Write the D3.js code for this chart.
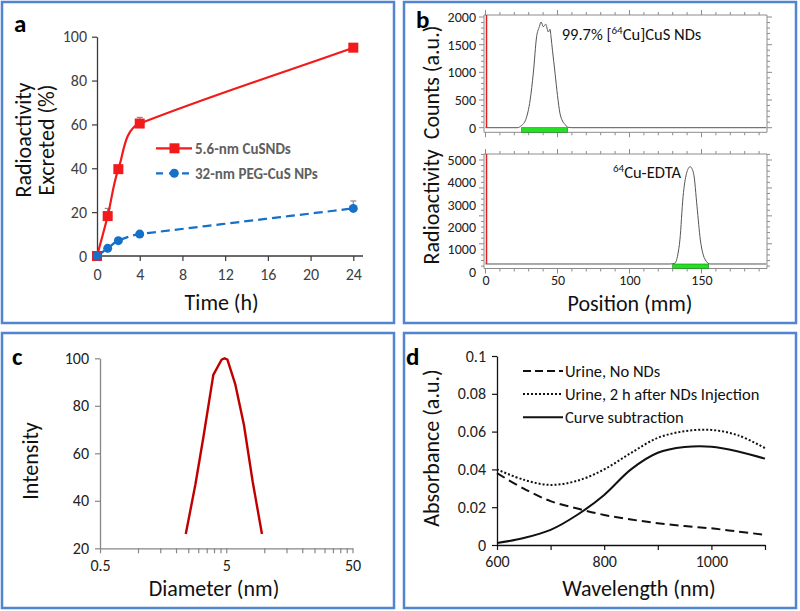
<!DOCTYPE html>
<html><head><meta charset="utf-8">
<script src="https://cdn.jsdelivr.net/npm/d3@7"></script>
<style>
body{margin:0;background:#fff}
svg{display:block}
text{font-family:Carlito,Lato,"Open Sans",sans-serif}
</style>
</head><body>
<svg id="fig" width="800" height="611"></svg>
<script>
// ---------------- DATA ----------------
// Panel a
const aTime = [0, 1, 2, 4, 24];
const aCuSND = [0, 18.2, 39.6, 60.4, 95.0];
const aCuSNDErr = [0, 3.5, 1.5, 2.8, 1.0];
const aPEG = [0, 3.5, 7.0, 10.0, 21.7];
const aPEGErr = [0, 0.8, 0.8, 0.8, 3.4];
const aXTicks = [0, 4, 8, 12, 16, 20, 24];
const aYTicks = [0, 20, 40, 60, 80, 100];
const aSeriesNames = ["5.6-nm CuSNDs", "32-nm PEG-CuS NPs"];
// Panel b
const bTopPos = [0, 22, 25, 28, 31, 33.2, 35.5, 37.4, 38.6, 40.2, 41.8, 43.6, 44.8, 45.5, 46.5, 48.3, 50, 51.7, 53.5, 55.2, 57, 60, 195];
const bTopCounts = [0, 0, 40, 150, 500, 985, 1645, 1825, 1910, 1825, 1870, 1730, 1780, 1640, 1400, 985, 580, 260, 120, 60, 10, 0, 0];
const bBotPos = [0, 128, 131.5, 133.5, 135, 137.2, 139.6, 142.1, 144.5, 146.9, 149.2, 151, 152.7, 156, 195];
const bBotCounts = [345, 345, 380, 750, 1420, 3360, 4400, 4700, 4400, 2910, 1420, 800, 525, 345, 345];
const bTopRegion = [25, 57];
const bBotRegion = [130, 155];
const bXTicks = [0, 50, 100, 150];
const bTopYTicks = [0, 500, 1000, 1500, 2000];
const bBotYTicks = [0, 1000, 2000, 3000, 4000, 5000];
// Panel c
const cDiameter = [2.39, 2.85, 3.3, 3.95, 4.6, 4.85, 5.1, 5.9, 6.9, 8.1, 9.59];
const cIntensity = [26, 47, 67, 93, 99.5, 100, 99.5, 89, 72, 48, 26];
const cXTicks = [0.5, 1, 1.5, 2, 2.5, 3, 3.5, 4, 4.5, 5, 10, 15, 20, 25, 30, 35, 40, 45, 50];
const cXLabels = [0.5, 5, 50];
const cYTicks = [20, 40, 60, 80, 100];
// Panel d
const dWave = [600, 650, 700, 750, 800, 850, 900, 950, 1000, 1050, 1100];
const dNoNDs = [0.038, 0.0298, 0.0232, 0.0193, 0.0159, 0.0135, 0.0115, 0.0100, 0.0088, 0.0071, 0.0054];
const dAfter = [0.040, 0.0345, 0.0318, 0.034, 0.040, 0.0487, 0.0567, 0.0602, 0.0609, 0.058, 0.0513];
const dSub = [0.001, 0.0037, 0.008, 0.016, 0.0265, 0.040, 0.0488, 0.0518, 0.052, 0.0495, 0.0457];
const dXTicks = [600, 700, 800, 900, 1000, 1100];
const dXLabels = [600, 800, 1000];
const dYTicks = [0, 0.02, 0.04, 0.06, 0.08, 0.1];
const dSeriesNames = ["Urine, No NDs", "Urine, 2 h after NDs Injection", "Curve subtraction"];

// ---------------- DRAW ----------------
const svg = d3.select("#fig");
const BORDER = "#5285cf";
const TITLEFS = 22;

[[2,2,392,321],[404,2,392,321],[2,333,392,275],[404,333,392,275]].forEach(r=>{
  svg.append("rect").attr("x",r[0]).attr("y",r[1]).attr("width",r[2]).attr("height",r[3])
    .attr("fill","none").attr("stroke",BORDER).attr("stroke-width",2.5);
});
function letter(t,x,y){
  svg.append("text").attr("x",x).attr("y",y).attr("font-size",25).attr("font-weight","bold").attr("fill","#000").text(t);
}
function styleAxis(g,color,fs,textColor){
  g.selectAll("path.domain").attr("stroke",color).attr("stroke-width",1.3);
  g.selectAll(".tick line").attr("stroke",color).attr("stroke-width",1.2);
  g.selectAll(".tick text").attr("font-size",fs).attr("fill",textColor).style("font-family","Carlito,Lato,'Open Sans',sans-serif");
  g.selectAll(".tick text").filter(function(){return this.textContent==="";}).remove();
}
function title(t,x,y,rot,fs){
  const tx = svg.append("text").attr("font-size",fs||TITLEFS).attr("fill","#111").attr("text-anchor","middle");
  if(rot) tx.attr("transform",`translate(${x},${y}) rotate(-90)`).attr("dy","0.35em");
  else tx.attr("x",x).attr("y",y);
  tx.text(t);
  return tx;
}
// Excel-like smoothed line: Bezier, tangent direction weighted toward the longer neighbouring segment
function smoothPath(pts){
  const p = d3.path(), n = pts.length;
  const tan = pts.map((pt,i)=>{
    let dx=0, dy=0;
    if(i>0){ const ax=pt[0]-pts[i-1][0], ay=pt[1]-pts[i-1][1], L=Math.hypot(ax,ay); dx+=ax*L; dy+=ay*L; }
    if(i<n-1){ const bx=pts[i+1][0]-pt[0], by=pts[i+1][1]-pt[1], L=Math.hypot(bx,by); dx+=bx*L; dy+=by*L; }
    const L=Math.hypot(dx,dy)||1;
    return [dx/L, dy/L];
  });
  p.moveTo(pts[0][0],pts[0][1]);
  for(let i=0;i<n-1;i++){
    const a=pts[i], b=pts[i+1], L=Math.hypot(b[0]-a[0],b[1]-a[1])/3;
    p.bezierCurveTo(a[0]+tan[i][0]*L, a[1]+tan[i][1]*L, b[0]-tan[i+1][0]*L, b[1]-tan[i+1][1]*L, b[0], b[1]);
  }
  return p.toString();
}

// ===== Panel a =====
(function(){
  const x = d3.scaleLinear().domain([0,24]).range([97,353.3]);
  const y = d3.scaleLinear().domain([0,100]).range([256,36.7]);
  const axCol = "#3a3a3a", fs = 16;
  const gx = svg.append("g").attr("transform","translate(0,256)")
    .call(d3.axisBottom(x).tickValues(aXTicks).tickSize(5).tickSizeOuter(0).tickPadding(8));
  gx.select("path.domain").remove();
  svg.append("line").attr("x1",97).attr("x2",363).attr("y1",256).attr("y2",256).attr("stroke",axCol).attr("stroke-width",1.3);
  styleAxis(gx,axCol,fs,"#404040");
  const gy = svg.append("g").attr("transform","translate(97,0)")
    .call(d3.axisLeft(y).tickValues(aYTicks).tickSize(5).tickSizeOuter(0).tickPadding(5));
  styleAxis(gy,axCol,fs,"#404040");

  const red = "#f21a1a", blue = "#1470c8";
  function errs(vals, errsArr){
    vals.forEach((v,i)=>{
      if(errsArr[i]<=0) return;
      const xx = x(aTime[i]);
      svg.append("line").attr("x1",xx).attr("x2",xx).attr("y1",y(v)).attr("y2",y(v+errsArr[i])).attr("stroke","#8a8a8a").attr("stroke-width",1.2);
      svg.append("line").attr("x1",xx-3).attr("x2",xx+3).attr("y1",y(v+errsArr[i])).attr("y2",y(v+errsArr[i])).attr("stroke","#8a8a8a").attr("stroke-width",1.2);
    });
  }
  errs(aCuSND,aCuSNDErr); errs(aPEG,aPEGErr);
  const ptsRed = aCuSND.map((d,i)=>[x(aTime[i]),y(d)]);
  const ptsBlue = aPEG.map((d,i)=>[x(aTime[i]),y(d)]);
  svg.append("path").attr("d",smoothPath(ptsBlue)).attr("fill","none").attr("stroke",blue).attr("stroke-width",2.2).attr("stroke-dasharray","9,5");
  svg.append("path").attr("d",smoothPath(ptsRed)).attr("fill","none").attr("stroke",red).attr("stroke-width",2.2);
  svg.selectAll("rect.mk").data(aCuSND).enter().append("rect")
    .attr("x",(d,i)=>x(aTime[i])-5).attr("y",d=>y(d)-5).attr("width",10).attr("height",10).attr("fill",red);
  svg.selectAll("circle.mk").data(aPEG).enter().append("circle")
    .attr("cx",(d,i)=>x(aTime[i])).attr("cy",d=>y(d)).attr("r",4.5).attr("fill",blue);
  // legend
  svg.append("line").attr("x1",156).attr("x2",192).attr("y1",148.3).attr("y2",148.3).attr("stroke",red).attr("stroke-width",2.2);
  svg.append("rect").attr("x",169.5).attr("y",143.3).attr("width",10).attr("height",10).attr("fill",red);
  svg.append("line").attr("x1",156).attr("x2",192).attr("y1",173.3).attr("y2",173.3).attr("stroke",blue).attr("stroke-width",2.2).attr("stroke-dasharray","7,6");
  svg.append("circle").attr("cx",174.3).attr("cy",173.3).attr("r",4.5).attr("fill",blue);
  [148.3,173.3].forEach((yy,i)=>{
    svg.append("text").attr("x",195).attr("y",yy).attr("dy","0.35em").attr("font-size",15).attr("font-weight","bold").attr("fill","#5f5f5f").text(aSeriesNames[i]);
  });
  letter("a",14,31.5);
  title("Radioactivity",23.5,140,true,22);
  title("Excreted (%)",46.5,140,true,22);
  title("Time (h)",221.7,310,false,22);
})();

// ===== Panel b =====
(function(){
  const x = d3.scaleLinear().domain([0,195]).range([485.5,766.3]);
  const frameCol = "#8c8c8c", fs = 14;
  function sub(yTop, yAxis, y, yMinorStep, posArr, cntArr, region, yticks){
    const xl = 484, xr = 767;
    svg.append("line").attr("x1",xl).attr("x2",xr).attr("y1",yTop).attr("y2",yTop).attr("stroke",frameCol);
    svg.append("line").attr("x1",xl).attr("x2",xl).attr("y1",yTop).attr("y2",yAxis).attr("stroke",frameCol);
    svg.append("line").attr("x1",xr).attr("x2",xr).attr("y1",yTop).attr("y2",yAxis).attr("stroke",frameCol);
    svg.append("line").attr("x1",xl).attr("x2",xr).attr("y1",yAxis).attr("y2",yAxis).attr("stroke",frameCol);
    d3.range(0,196,10).forEach(v=>{
      const xx = x(v), len = v%50===0?5:3;
      svg.append("line").attr("x1",xx).attr("x2",xx).attr("y1",yTop).attr("y2",yTop-len).attr("stroke",frameCol);
      svg.append("line").attr("x1",xx).attr("x2",xx).attr("y1",yAxis).attr("y2",yAxis+len).attr("stroke",frameCol);
    });
    const ymax = y.invert(yTop);
    for(let v=0; v<=ymax; v+=yMinorStep){
      const yy = y(v); if(yy>yAxis) continue;
      const len = (v%(yMinorStep*5)===0)?5:3;
      svg.append("line").attr("x1",xl).attr("x2",xl-len).attr("y1",yy).attr("y2",yy).attr("stroke",frameCol);
      svg.append("line").attr("x1",xr).attr("x2",xr+len).attr("y1",yy).attr("y2",yy).attr("stroke",frameCol);
    }
    svg.append("line").attr("x1",x(0)+1).attr("x2",x(0)+1).attr("y1",yTop).attr("y2",y(cntArr[0])).attr("stroke","#e02020").attr("stroke-width",1.5);
    svg.append("rect").attr("x",x(region[0])).attr("y",y(cntArr[cntArr.length-1])).attr("width",x(region[1])-x(region[0])).attr("height",4.6)
      .attr("fill","#22e022").attr("stroke","#1b7f1b").attr("stroke-width",0.6);
    const lg = d3.line().x((d,i)=>x(posArr[i])).y(d=>y(d)).curve(d3.curveMonotoneX);
    svg.append("path").datum(cntArr).attr("d",lg).attr("fill","none").attr("stroke","#555").attr("stroke-width",1);
    const gy = svg.append("g").attr("transform","translate(480,0)")
      .call(d3.axisLeft(y).tickValues(yticks).tickSize(0).tickPadding(4).tickFormat(d3.format("d")));
    gy.select("path.domain").remove();
    styleAxis(gy,"none",fs,"#222");
  }
  const yTopS = d3.scaleLinear().domain([0,2000]).range([127.7,17]);
  const yBotS = d3.scaleLinear().domain([0,5000]).range([271.7,160]);
  sub(15,132.3,yTopS,100,bTopPos,bTopCounts,bTopRegion,bTopYTicks);
  sub(154,268.5,yBotS,250,bBotPos,bBotCounts,bBotRegion,bBotYTicks);
  const gx = svg.append("g").attr("transform","translate(0,268.5)")
    .call(d3.axisBottom(x).tickValues(bXTicks).tickSize(0).tickPadding(7));
  gx.select("path.domain").remove();
  styleAxis(gx,"none",fs,"#222");
  const t1 = svg.append("text").attr("x",561.7).attr("y",40).attr("font-size",16.5).attr("fill","#111");
  t1.append("tspan").text("99.7% [");
  t1.append("tspan").attr("font-size",11).attr("dy",-6).text("64");
  t1.append("tspan").attr("dy",6).text("Cu]CuS NDs");
  const t2 = svg.append("text").attr("x",613).attr("y",177.5).attr("font-size",16.5).attr("fill","#111");
  t2.append("tspan").attr("font-size",11).attr("dy",-6).text("64");
  t2.append("tspan").attr("dy",6).text("Cu-EDTA");
  letter("b",416,28.3);
  title("Radioactivity  Counts (a.u.)",431,145,true,22).style("white-space","pre");
  title("Position (mm)",630,311,false,22);
})();

// ===== Panel c =====
(function(){
  const x = d3.scaleLog().domain([0.5,50]).range([100,352.5]);
  const y = d3.scaleLinear().domain([20,100]).range([548.3,358.3]);
  const axCol = "#868686", fs = 16;
  const gx = svg.append("g").attr("transform","translate(0,548.3)")
    .call(d3.axisBottom(x).tickValues(cXTicks).tickSize(5).tickSizeOuter(0).tickPadding(6)
      .tickFormat(d=>cXLabels.includes(d)?String(d):""));
  styleAxis(gx,axCol,fs,"#222");
  const gy = svg.append("g").attr("transform","translate(100,0)")
    .call(d3.axisLeft(y).tickValues(cYTicks).tickSize(5).tickSizeOuter(0).tickPadding(6));
  styleAxis(gy,axCol,fs,"#222");
  const lg = d3.line().x((d,i)=>x(cDiameter[i])).y(d=>y(d)).curve(d3.curveLinear);
  svg.append("path").datum(cIntensity).attr("d",lg).attr("fill","none").attr("stroke","#c00000").attr("stroke-width",2.4).attr("stroke-linejoin","round");
  letter("c",12,365);
  title("Intensity",30,461,true,22);
  title("Diameter (nm)",214,596,false,22);
})();

// ===== Panel d =====
(function(){
  const x = d3.scaleLinear().domain([600,1100]).range([497,765]);
  const y = d3.scaleLinear().domain([0,0.1]).range([545,356]);
  const axCol = "#111", fs = 16;
  const gx = svg.append("g").attr("transform","translate(0,545)")
    .call(d3.axisBottom(x).tickValues(dXTicks).tickSize(5).tickSizeOuter(0).tickPadding(6)
      .tickFormat(d=>dXLabels.includes(d)?String(d):""));
  styleAxis(gx,axCol,fs,"#222");
  const gy = svg.append("g").attr("transform","translate(497,0)")
    .call(d3.axisLeft(y).tickValues(dYTicks).tickSize(5).tickSizeOuter(0).tickPadding(6).tickFormat(d3.format("~g")));
  styleAxis(gy,axCol,fs,"#222");
  const lg = d3.line().x((d,i)=>x(dWave[i])).y(d=>y(d)).curve(d3.curveCatmullRom);
  const styles = [{da:"9,5",w:2},{da:"2,2",w:2},{da:null,w:2}];
  [dNoNDs,dAfter,dSub].forEach((arr,k)=>{
    const p = svg.append("path").datum(arr).attr("d",lg).attr("fill","none").attr("stroke","#111").attr("stroke-width",styles[k].w);
    if(styles[k].da) p.attr("stroke-dasharray",styles[k].da);
  });
  [371,394,417.3].forEach((yy,k)=>{
    const l = svg.append("line").attr("x1",523).attr("x2",563).attr("y1",yy).attr("y2",yy).attr("stroke","#111").attr("stroke-width",styles[k].w);
    if(styles[k].da) l.attr("stroke-dasharray", k===0?"8,4":styles[k].da);
    svg.append("text").attr("x",565).attr("y",yy).attr("dy","0.35em").attr("font-size",16.5).attr("fill","#111").text(dSeriesNames[k]);
  });
  letter("d",406,365);
  title("Absorbance (a.u.)",431,448,true,22);
  title("Wavelength (nm)",639,596,false,22);
})();
</script>
</body></html>
